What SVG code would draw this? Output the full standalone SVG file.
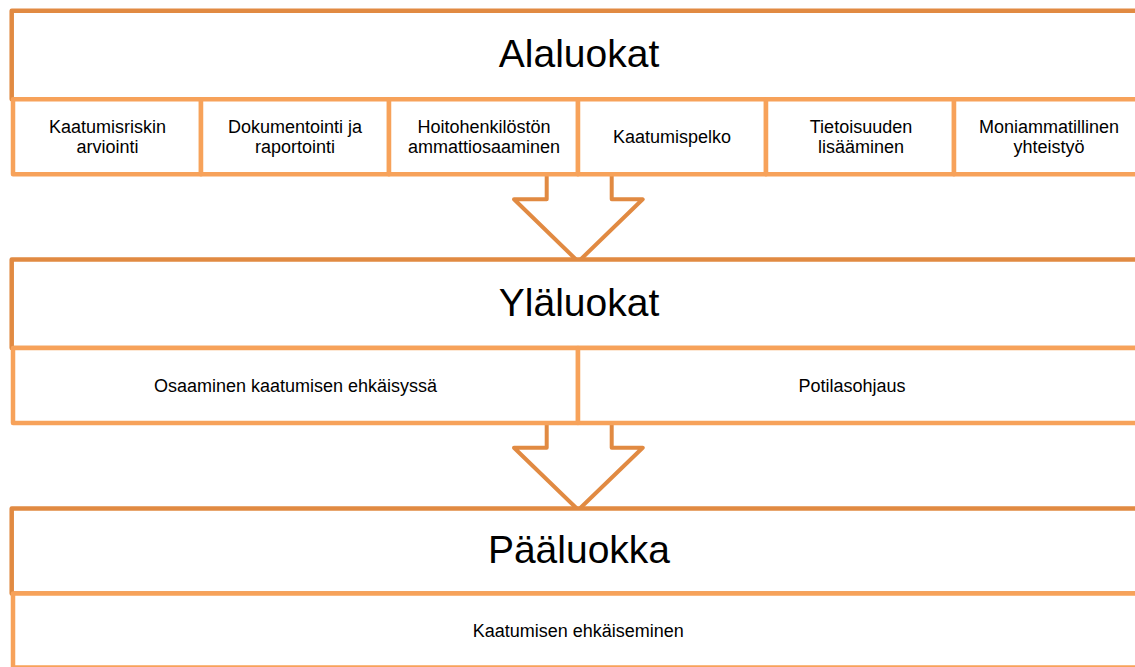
<svg xmlns="http://www.w3.org/2000/svg" width="1135" height="667" viewBox="0 0 1135 667">
<style>
.hdr{fill:#fff;stroke:#E18A42;stroke-width:4.5;stroke-linejoin:round}
.cell{fill:#fff;stroke:#F7A25A;stroke-width:4.5;stroke-linejoin:round}
.arr{fill:#fff;stroke:#E18A42;stroke-width:4;stroke-linejoin:round}
text{font-family:"Liberation Sans",Arial,sans-serif;fill:#000;text-anchor:middle}
.t{font-size:39px}
.s{font-size:18px}
</style>
<rect width="1135" height="667" fill="#fff"/>
<g id="connectors">
<path class="arr" d="M546.7,174.2 V199.3 H514 L578.3,261.7 L642.7,199.3 H611.7 V174.2"/>
<path class="arr" d="M546.7,423 V447.7 H514 L578.3,510 L642.7,447.7 H611.7 V423"/>
</g>
<g id="alaluokat">
<rect class="hdr" x="11.7" y="10.8" width="1140" height="88.4"/>
<text class="t" x="579" y="66.7">Alaluokat</text>
</g>
<g id="kaatumisriskin-arviointi">
<rect class="cell" x="13" y="99.2" width="188" height="75"/>
<text class="s" x="107.5" y="133.2">Kaatumisriskin</text>
<text class="s" x="107.5" y="152.7">arviointi</text>
</g>
<g id="dokumentointi">
<rect class="cell" x="201" y="99.2" width="188" height="75"/>
<text class="s" x="295" y="133.2">Dokumentointi ja</text>
<text class="s" x="295" y="152.7">raportointi</text>
</g>
<g id="hoitohenkilosto">
<rect class="cell" x="389" y="99.2" width="189" height="75"/>
<text class="s" x="484" y="133.2">Hoitohenkilöstön</text>
<text class="s" x="484" y="152.7">ammattiosaaminen</text>
</g>
<g id="kaatumispelko">
<rect class="cell" x="578" y="99.2" width="188" height="75"/>
<text class="s" x="672" y="142.8">Kaatumispelko</text>
</g>
<g id="tietoisuus">
<rect class="cell" x="766" y="99.2" width="188" height="75"/>
<text class="s" x="861" y="133.2">Tietoisuuden</text>
<text class="s" x="861" y="152.7">lisääminen</text>
</g>
<g id="moniammatillinen">
<rect class="cell" x="954" y="99.2" width="188" height="75"/>
<text class="s" x="1049" y="133.2">Moniammatillinen</text>
<text class="s" x="1049" y="152.7">yhteistyö</text>
</g>
<g id="ylaluokat">
<rect class="hdr" x="11.7" y="259.5" width="1140" height="88.5"/>
<text class="t" x="579" y="315.7">Yläluokat</text>
</g>
<g id="osaaminen">
<rect class="cell" x="13" y="348" width="565" height="75"/>
<text class="s" x="295.5" y="391.8">Osaaminen kaatumisen ehkäisyssä</text>
</g>
<g id="potilasohjaus">
<rect class="cell" x="578" y="348" width="564" height="75"/>
<text class="s" x="852" y="391.8">Potilasohjaus</text>
</g>
<g id="paaluokka">
<rect class="hdr" x="11.7" y="508.5" width="1140" height="85"/>
<text class="t" x="579" y="563">Pääluokka</text>
</g>
<g id="kaatumisen-ehkaiseminen">
<rect class="cell" x="13" y="593.5" width="1129" height="74"/>
<text class="s" x="578.3" y="637.3">Kaatumisen ehkäiseminen</text>
</g>
</svg>
